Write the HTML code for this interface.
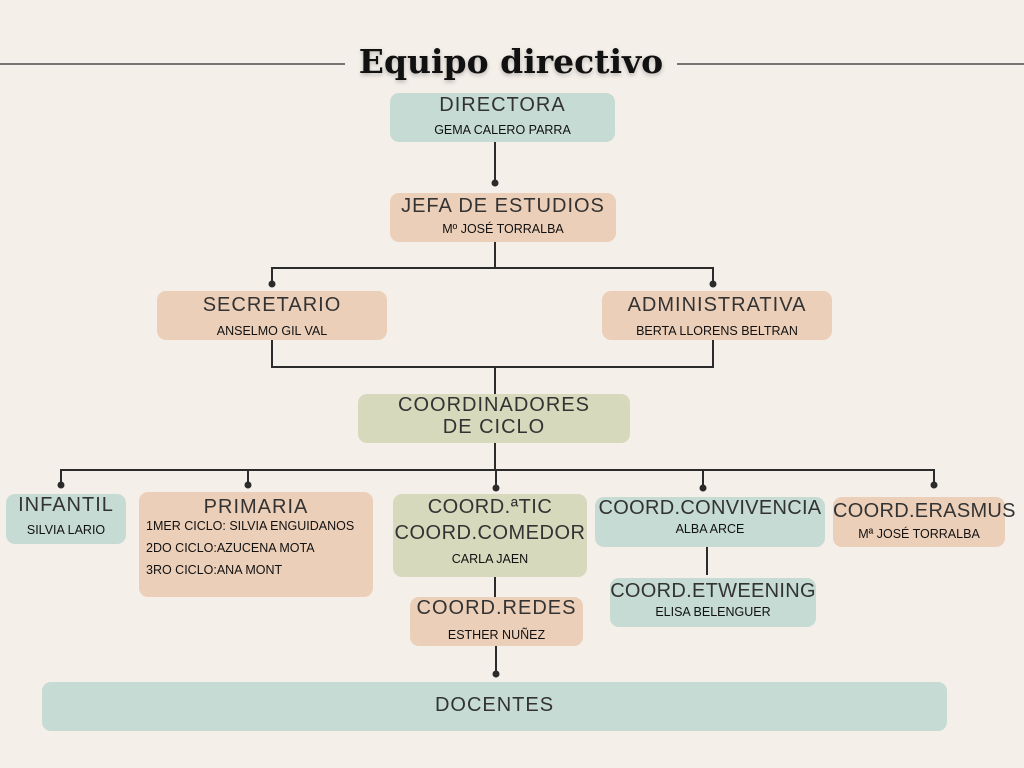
<!DOCTYPE html><html><head><style>
body{margin:0;width:1024px;height:768px;background:#f4efe9;position:relative;overflow:hidden;font-family:"Liberation Sans",sans-serif;color:#222}
.b{position:absolute;border-radius:9px;text-align:center;box-sizing:border-box}
.t{font-size:20px;letter-spacing:1px;color:#333;white-space:nowrap}
.n{font-size:12.5px;color:#111;white-space:nowrap}
.g{background:#c5dbd4}.p{background:#eccfb9}.o{background:#d7d9bc}
svg{position:absolute;left:0;top:0}
</style></head><body>
<svg width="1024" height="768" stroke="#2b2b2b" stroke-width="2" fill="#2b2b2b">
<line x1="0" y1="64" x2="345" y2="64" stroke-width="1.2"/><line x1="677" y1="64" x2="1024" y2="64" stroke-width="1.2"/>
<line x1="495" y1="142" x2="495" y2="183"/><circle cx="495" cy="183" r="3.5" stroke="none"/>
<line x1="495" y1="242" x2="495" y2="268"/><polyline points="272,284 272,268 713,268 713,284" fill="none"/>
<circle cx="272" cy="284" r="3.5" stroke="none"/><circle cx="713" cy="284" r="3.5" stroke="none"/>
<polyline points="272,340 272,367 713,367 713,340" fill="none"/><line x1="495" y1="367" x2="495" y2="394"/>
<line x1="495" y1="443" x2="495" y2="470"/><polyline points="61,485 61,470 934,470 934,485" fill="none"/>
<line x1="248" y1="470" x2="248" y2="485"/><line x1="496" y1="470" x2="496" y2="488"/><line x1="703" y1="470" x2="703" y2="488"/>
<circle cx="61" cy="485" r="3.5" stroke="none"/><circle cx="248" cy="485" r="3.5" stroke="none"/><circle cx="496" cy="488" r="3.5" stroke="none"/><circle cx="703" cy="488" r="3.5" stroke="none"/><circle cx="934" cy="485" r="3.5" stroke="none"/>
<line x1="495" y1="577" x2="495" y2="597"/><line x1="496" y1="646" x2="496" y2="674"/><circle cx="496" cy="674" r="3.5" stroke="none"/>
<line x1="707" y1="547" x2="707" y2="575"/>
</svg>
<div style="position:absolute;left:345px;width:332px;top:42px;text-align:center;font-family:'DejaVu Serif',serif;font-weight:bold;font-size:33px;color:#111;text-shadow:0 2px 4px rgba(0,0,0,.25)">Equipo directivo</div>
<div class="b g" style="left:390px;top:93px;width:225px;height:49px"><div class="t" style="margin-top:1px">DIRECTORA</div><div class="n" style="margin-top:6px">GEMA CALERO PARRA</div></div>
<div class="b p" style="left:390px;top:193px;width:226px;height:49px"><div class="t" style="margin-top:2px">JEFA DE ESTUDIOS</div><div class="n" style="margin-top:4px">Mº JOSÉ TORRALBA</div></div>
<div class="b p" style="left:157px;top:291px;width:230px;height:49px"><div class="t" style="margin-top:3px">SECRETARIO</div><div class="n" style="margin-top:7px">ANSELMO GIL VAL</div></div>
<div class="b p" style="left:602px;top:291px;width:230px;height:49px"><div class="t" style="margin-top:3px">ADMINISTRATIVA</div><div class="n" style="margin-top:7px">BERTA LLORENS BELTRAN</div></div>
<div class="b o" style="left:358px;top:394px;width:272px;height:49px"><div class="t" style="line-height:22px;margin-top:0">COORDINADORES<br>DE CICLO</div></div>
<div class="b g" style="left:6px;top:494px;width:120px;height:50px"><div class="t">INFANTIL</div><div class="n" style="margin-top:6px">SILVIA LARIO</div></div>
<div class="b p" style="left:139px;top:492px;width:234px;height:105px;text-align:left"><div class="t" style="text-align:center;margin-top:4px">PRIMARIA</div><div class="n" style="margin:0 0 0 7px;line-height:22px;position:relative;top:-4px">1MER CICLO: SILVIA ENGUIDANOS<br>2DO CICLO:AZUCENA MOTA<br>3RO CICLO:ANA MONT</div></div>
<div class="b o" style="left:393px;top:494px;width:194px;height:83px"><div class="t" style="line-height:26px;letter-spacing:0.5px">COORD.ªTIC<br>COORD.COMEDOR</div><div class="n" style="margin-top:6px">CARLA JAEN</div></div>
<div class="b p" style="left:410px;top:597px;width:173px;height:49px"><div class="t" style="margin-top:0">COORD.REDES</div><div class="n" style="margin-top:8px">ESTHER NUÑEZ</div></div>
<div class="b g" style="left:595px;top:497px;width:230px;height:50px"><div class="t" style="letter-spacing:0.3px">COORD.CONVIVENCIA</div><div class="n" style="margin-top:2px">ALBA ARCE</div></div>
<div class="b g" style="left:610px;top:578px;width:206px;height:49px"><div class="t" style="letter-spacing:0.3px;margin-top:2px">COORD.ETWEENING</div><div class="n" style="margin-top:2px">ELISA BELENGUER</div></div>
<div class="b p" style="left:833px;top:497px;width:172px;height:50px"><div class="t" style="letter-spacing:0.3px;margin-top:3px">COORD.ERASMUS</div><div class="n" style="margin-top:4px">Mª JOSÉ TORRALBA</div></div>
<div class="b g" style="left:42px;top:682px;width:905px;height:49px"><div class="t" style="margin-top:12px">DOCENTES</div></div>
</body></html>
